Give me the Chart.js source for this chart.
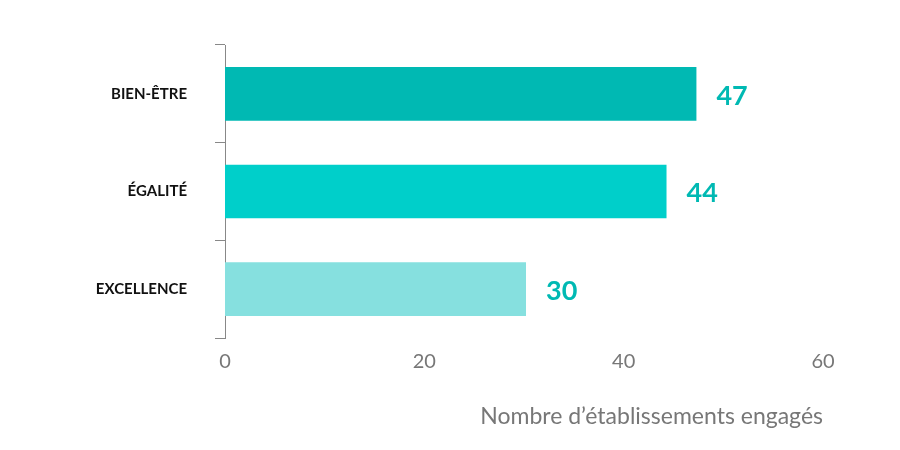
<!DOCTYPE html>
<html><head><meta charset="utf-8">
<script src="https://cdn.jsdelivr.net/npm/chart.js@4"></script>
<style>body{margin:0;background:#fff}#w{width:900px;height:450px}</style>
</head><body><div id="w"><canvas id="c"></canvas></div>
<script>
const categories = ["BIEN-ÊTRE", "ÉGALITÉ", "EXCELLENCE"];
const values = [47.3, 44.3, 30.2];
const labels = ["47", "44", "30"];
const colors = ["#00b9b3", "#00cfca", "#86e0df"];
const valuePlugin = {
  id: 'vals',
  afterDatasetsDraw(chart) {
    const ctx = chart.ctx;
    const meta = chart.getDatasetMeta(0);
    ctx.save();
    ctx.font = "bold 27px Lato, 'Open Sans', sans-serif";
    ctx.fillStyle = "#00b9b3";
    ctx.textBaseline = "middle";
    meta.data.forEach((b, i) => { ctx.fillText(labels[i], b.x + 20, b.y + 2); });
    ctx.restore();
  }
};
new Chart(document.getElementById('c'), {
  type: 'bar',
  data: { labels: categories, datasets: [{ data: values, backgroundColor: colors, categoryPercentage: 0.55, barPercentage: 1 }] },
  options: {
    indexAxis: 'y', responsive: true, maintainAspectRatio: false, animation: false,
    layout: { padding: { left: 10, right: 77, top: 45, bottom: 20 } },
    plugins: { legend: { display: false }, tooltip: { enabled: false } },
    scales: {
      x: {
        min: 0, max: 60,
        ticks: { stepSize: 20, color: "#777", font: { size: 20, family: "Lato, sans-serif" }, padding: 12 },
        grid: { display: false, drawTicks: false },
        border: { display: false },
        title: { display: true, text: "Nombre d’établissements engagés", align: 'end', color: "#777", font: { size: 23, family: "Lato, sans-serif" }, padding: { top: 14, bottom: 0 } },
        afterFit(s) { s.height = 92; }
      },
      y: {
        ticks: { color: "#111", font: { size: 15, weight: 'bold', family: "Lato, sans-serif" }, padding: 28 },
        grid: { offset: true, drawOnChartArea: false, tickLength: 10, color: "#888" },
        border: { display: true, color: "#888" },
        afterFit(s) { s.width = 215; }
      }
    }
  },
  plugins: [valuePlugin]
});
</script></body></html>
